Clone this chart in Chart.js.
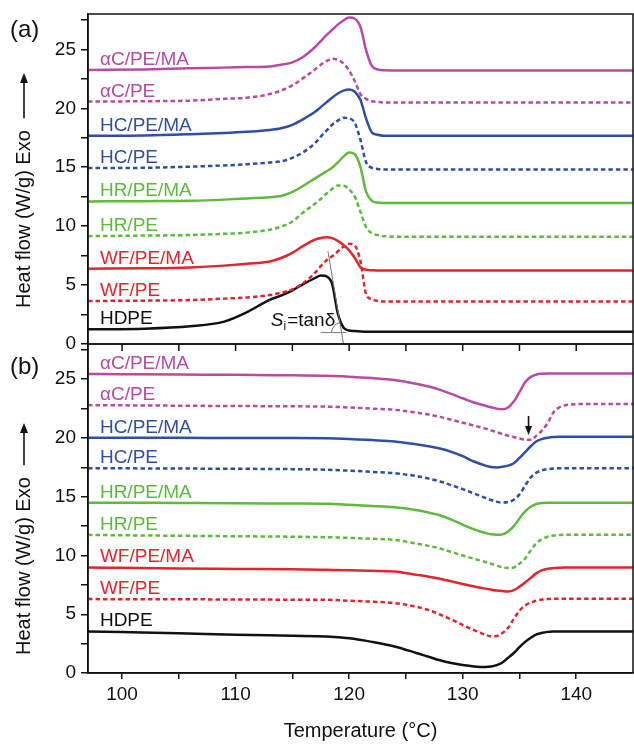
<!DOCTYPE html>
<html>
<head>
<meta charset="utf-8">
<script src="https://cdn.jsdelivr.net/npm/chart.js@4.4.1/dist/chart.umd.min.js"></script>
<style>
  html, body { margin: 0; padding: 0; background: #fff; }
  #wrap { position: relative; width: 634px; height: 744px; }
  canvas { position: absolute; left: 0; }
  #chartA { top: 0; }
  #chartB { top: 336px; }
</style>
</head>
<body>
<div id="wrap">
  <canvas id="chartA" width="634" height="350"></canvas>
  <canvas id="chartB" width="634" height="408"></canvas>
</div>
<script>
// series, top to bottom
const seriesNames = ['\u03b1C/PE/MA', '\u03b1C/PE', 'HC/PE/MA', 'HC/PE', 'HR/PE/MA', 'HR/PE', 'WF/PE/MA', 'WF/PE', 'HDPE'];
const seriesColors = ['#b84aa6', '#b84aa6', '#2f4ea6', '#2f4ea6', '#5cba3c', '#5cba3c', '#e3242b', '#e3242b', '#111111'];
const seriesDashed = [false, true, false, true, false, true, false, true, false];

// axis ticks
const tempTicks = [100, 105, 110, 115, 120, 125, 130, 135, 140];
const heatTicks = [0, 2.5, 5, 7.5, 10, 12.5, 15, 17.5, 20, 22.5, 25, 27.5];

// (a) cooling / crystallization, temperatures in °C
const tempA = [97, 102, 106, 109, 111, 113, 114, 115, 116, 117, 117.5, 118, 118.5, 119, 119.5, 120, 120.5, 121, 121.5, 122, 122.5, 123, 125, 130, 135, 140, 145];
const crysAlphaMA = [23.25, 23.3, 23.4, 23.45, 23.5, 23.55, 23.7, 23.9, 24.4, 25.2, 25.7, 26.2, 26.65, 27.1, 27.45, 27.7, 27.6, 26.9, 24.9, 23.6, 23.3, 23.22, 23.2, 23.2, 23.2, 23.2, 23.2];
const crysAlpha = [20.57, 20.6, 20.65, 20.8, 20.9, 21.2, 21.5, 21.95, 22.6, 23.3, 23.7, 24.0, 24.2, 24.1, 23.8, 23.2, 22.3, 21.2, 20.8, 20.6, 20.55, 20.5, 20.5, 20.5, 20.5, 20.5, 20.5];
const crysHCMA = [17.67, 17.7, 17.8, 17.9, 18.0, 18.15, 18.3, 18.6, 19.1, 19.7, 20.1, 20.5, 20.9, 21.25, 21.5, 21.6, 21.4, 20.7, 19.1, 17.95, 17.75, 17.68, 17.67, 17.67, 17.67, 17.67, 17.67];
const crysHC = [14.93, 14.95, 15.05, 15.15, 15.25, 15.4, 15.5, 15.8, 16.3, 17.05, 17.6, 18.1, 18.6, 18.95, 19.2, 19.15, 18.75, 17.3, 15.4, 14.95, 14.85, 14.8, 14.8, 14.8, 14.8, 14.8, 14.8];
const crysHRMA = [12.1, 12.12, 12.15, 12.25, 12.35, 12.45, 12.55, 12.9, 13.45, 14.05, 14.35, 14.65, 14.95, 15.4, 15.9, 16.25, 16.1, 15.0, 12.9, 12.15, 12.0, 11.97, 11.97, 11.97, 11.97, 11.97, 11.97];
const crysHR = [9.15, 9.2, 9.25, 9.35, 9.45, 9.7, 9.95, 10.4, 11.2, 11.9, 12.3, 12.75, 13.15, 13.45, 13.45, 13.1, 12.5, 11.2, 9.9, 9.4, 9.25, 9.15, 9.1, 9.1, 9.1, 9.1, 9.1];
const crysWFMA = [6.39, 6.42, 6.5, 6.65, 6.8, 7.0, 7.3, 7.74, 8.35, 8.85, 9.0, 9.06, 8.98, 8.75, 8.4, 7.95, 7.3, 6.5, 6.3, 6.25, 6.24, 6.24, 6.24, 6.24, 6.24, 6.24, 6.24];
const crysWF = [3.65, 3.68, 3.73, 3.85, 3.95, 4.15, 4.35, 4.64, 5.2, 6.05, 6.6, 7.1, 7.45, 7.85, 8.25, 8.5, 8.35, 7.0, 4.2, 3.79, 3.65, 3.6, 3.6, 3.6, 3.6, 3.6, 3.6];
const crysHDPE = [1.25, 1.3, 1.5, 1.9, 2.7, 3.75, 4.1, 4.55, 5.1, 5.6, 5.82, 5.75, 5.1, 2.6, 1.4, 1.15, 1.1, 1.07, 1.05, 1.05, 1.05, 1.05, 1.05, 1.05, 1.05, 1.05, 1.05];

// (b) heating / melting
const tempB = [97, 100, 105, 110, 115, 118, 120, 122, 124, 126, 127, 128, 129, 130, 131, 132, 132.5, 133, 133.5, 134, 134.5, 135, 135.5, 136, 136.5, 137, 137.5, 138, 138.5, 139, 140, 142, 145];
const meltAlphaMA = [25.45, 25.43, 25.4, 25.38, 25.33, 25.3, 25.22, 25.1, 24.94, 24.6, 24.38, 24.1, 23.75, 23.38, 23.02, 22.75, 22.62, 22.5, 22.45, 22.6, 23.1, 23.9, 24.75, 25.2, 25.4, 25.47, 25.5, 25.5, 25.5, 25.5, 25.5, 25.5, 25.5];
const meltAlpha = [22.8, 22.78, 22.75, 22.72, 22.7, 22.67, 22.6, 22.5, 22.4, 22.15, 22.0, 21.8, 21.55, 21.3, 21.05, 20.8, 20.65, 20.5, 20.33, 20.2, 20.08, 19.95, 19.86, 19.85, 20.2, 20.65, 21.3, 22.2, 22.6, 22.78, 22.88, 22.9, 22.9];
const meltHCMA = [20.03, 20.03, 20.02, 20.0, 19.99, 19.98, 19.92, 19.82, 19.7, 19.45, 19.3, 19.1, 18.82, 18.45, 18.0, 17.65, 17.53, 17.5, 17.55, 17.65, 17.85, 18.3, 18.8, 19.3, 19.72, 19.92, 20.03, 20.08, 20.1, 20.1, 20.1, 20.1, 20.1];
const meltHC = [17.43, 17.42, 17.4, 17.38, 17.35, 17.3, 17.22, 17.12, 17.0, 16.75, 16.55, 16.3, 15.98, 15.65, 15.28, 14.9, 14.72, 14.58, 14.5, 14.55, 14.75, 15.2, 15.95, 16.65, 17.05, 17.25, 17.35, 17.4, 17.42, 17.43, 17.43, 17.43, 17.43];
const meltHRMA = [14.5, 14.49, 14.47, 14.45, 14.42, 14.4, 14.32, 14.22, 14.1, 13.85, 13.65, 13.42, 13.05, 12.62, 12.22, 11.92, 11.8, 11.76, 11.8, 12.05, 12.5, 13.15, 13.75, 14.15, 14.38, 14.47, 14.5, 14.5, 14.5, 14.5, 14.5, 14.5, 14.5];
const meltHR = [11.76, 11.72, 11.68, 11.64, 11.6, 11.56, 11.5, 11.42, 11.33, 11.0, 10.82, 10.6, 10.3, 10.0, 9.72, 9.45, 9.3, 9.12, 9.0, 8.93, 8.98, 9.3, 9.75, 10.45, 11.05, 11.4, 11.6, 11.7, 11.75, 11.76, 11.76, 11.76, 11.76];
const meltWFMA = [8.98, 8.95, 8.9, 8.86, 8.82, 8.78, 8.75, 8.7, 8.64, 8.35, 8.2, 8.02, 7.8, 7.58, 7.37, 7.18, 7.1, 7.02, 6.97, 6.94, 7.05, 7.35, 7.7, 8.1, 8.5, 8.75, 8.88, 8.93, 8.96, 8.98, 8.98, 8.98, 8.98];
const meltWF = [6.29, 6.28, 6.27, 6.26, 6.24, 6.23, 6.15, 6.07, 5.95, 5.62, 5.35, 4.98, 4.55, 4.08, 3.65, 3.25, 3.12, 3.15, 3.4, 3.85, 4.6, 5.3, 5.75, 6.0, 6.15, 6.25, 6.29, 6.31, 6.32, 6.32, 6.32, 6.32, 6.32];
const meltHDPE = [3.54, 3.48, 3.38, 3.26, 3.17, 3.11, 2.95, 2.65, 2.26, 1.68, 1.38, 1.08, 0.85, 0.68, 0.56, 0.51, 0.55, 0.67, 0.9, 1.3, 1.7, 2.2, 2.65, 3.0, 3.28, 3.42, 3.5, 3.53, 3.54, 3.54, 3.54, 3.54, 3.54];

// annotations (data units)
const tangentLine = [[118.13, 7.88], [119.5, 0.0]];
const tangentBase = [[117.5, 0.97], [119.75, 0.97]];
const tangentText = [113.1, 1.5];
const onsetArrow = [[135.8, 21.88], [135.8, 20.25]];

const FONT = '"Liberation Sans", Arial, sans-serif';
const INK = '#111';

function makeDatasets(temps, seriesValues) {
  return seriesValues.map((vals, i) => ({
    label: seriesNames[i],
    data: temps.map((t, j) => ({ x: t, y: vals[j] })),
    borderColor: seriesColors[i],
    borderWidth: 2.5,
    borderDash: seriesDashed[i] ? [4.5, 3] : [],
    pointRadius: 0,
    cubicInterpolationMode: 'monotone',
    fill: false
  }));
}

function drawYTitle(ctx, startY, tipY) {
  ctx.save();
  ctx.translate(24, startY);
  ctx.rotate(-Math.PI / 2);
  ctx.font = '20px ' + FONT;
  ctx.fillStyle = INK;
  ctx.strokeStyle = INK;
  ctx.textBaseline = 'middle';
  ctx.textAlign = 'left';
  const txt = 'Heat flow (W/g) Exo';
  ctx.fillText(txt, 0, 0);
  const w = ctx.measureText(txt).width;
  const len = startY - tipY;
  ctx.lineWidth = 1.6;
  ctx.beginPath();
  ctx.moveTo(w + 12, 0);
  ctx.lineTo(len - 6, 0);
  ctx.stroke();
  ctx.beginPath();
  ctx.moveTo(len, 0);
  ctx.lineTo(len - 10, -4);
  ctx.lineTo(len - 10, 4);
  ctx.closePath();
  ctx.fill();
  ctx.restore();
}

// frame, series names, panel tag, y title
function panelPlugin(tag, tagY, titleStart, titleTip, topTicks) {
  return {
    id: 'panel' + tag,
    afterDatasetsDraw(chart) {
      const { ctx, scales } = chart;
      ctx.save();
      ctx.font = '19px ' + FONT;
      ctx.textBaseline = 'alphabetic';
      ctx.textAlign = 'left';
      chart.data.datasets.forEach(ds => {
        ctx.fillStyle = ds.borderColor;
        const y = scales.y.getPixelForValue(ds.data[0].y) - 5;
        ctx.fillText(ds.label, scales.x.getPixelForValue(98.05), y);
      });
      ctx.restore();
    },
    afterDraw(chart) {
      const { ctx, chartArea: a, scales } = chart;
      ctx.save();
      ctx.strokeStyle = INK;
      ctx.lineWidth = 1.5;
      ctx.strokeRect(a.left, a.top, a.right - a.left, a.bottom - a.top);
      if (topTicks) {
        ctx.beginPath();
        tempTicks.forEach(t => {
          const x = scales.x.getPixelForValue(t);
          ctx.moveTo(x, a.top);
          ctx.lineTo(x, a.top + 7);
        });
        ctx.stroke();
      }
      ctx.fillStyle = INK;
      ctx.font = '24px ' + FONT;
      ctx.textAlign = 'left';
      ctx.textBaseline = 'alphabetic';
      ctx.fillText(tag, 10, tagY);
      ctx.restore();
      drawYTitle(ctx, titleStart, titleTip);
    }
  };
}

const tangentPlugin = {
  id: 'tangent',
  afterDatasetsDraw(chart) {
    const { ctx, scales: { x, y } } = chart;
    const P = p => [x.getPixelForValue(p[0]), y.getPixelForValue(p[1])];
    ctx.save();
    ctx.strokeStyle = '#777';
    ctx.lineWidth = 1;
    [tangentLine, tangentBase].forEach(seg => {
      const p0 = P(seg[0]), p1 = P(seg[1]);
      ctx.beginPath();
      ctx.moveTo(p0[0], p0[1]);
      ctx.lineTo(p1[0], p1[1]);
      ctx.stroke();
    });
    // angle arc at intersection
    const t0 = P(tangentLine[0]), t1 = P(tangentLine[1]);
    const by = P(tangentBase[0])[1];
    const f = (by - t0[1]) / (t1[1] - t0[1]);
    const cx = t0[0] + f * (t1[0] - t0[0]);
    const ang = Math.atan2(t0[1] - by, t0[0] - cx) + 2 * Math.PI;
    ctx.beginPath();
    ctx.arc(cx, by, 10, Math.PI, ang);
    ctx.stroke();
    // S_i = tan delta
    const tp = P(tangentText);
    ctx.fillStyle = INK;
    ctx.textBaseline = 'alphabetic';
    ctx.textAlign = 'left';
    ctx.font = 'italic 19px ' + FONT;
    ctx.fillText('S', tp[0], tp[1]);
    let cur = tp[0] + ctx.measureText('S').width;
    ctx.font = '12px ' + FONT;
    ctx.fillText('i', cur, tp[1] + 4);
    cur += ctx.measureText('i').width + 1;
    ctx.font = '19px ' + FONT;
    ctx.fillText('=tan\u03b4', cur, tp[1]);
    ctx.restore();
  }
};

const arrowPlugin = {
  id: 'onsetArrow',
  afterDatasetsDraw(chart) {
    const { ctx, scales: { x, y } } = chart;
    const x0 = x.getPixelForValue(onsetArrow[0][0]);
    const y0 = y.getPixelForValue(onsetArrow[0][1]);
    const y1 = y.getPixelForValue(onsetArrow[1][1]);
    ctx.save();
    ctx.strokeStyle = INK;
    ctx.fillStyle = INK;
    ctx.lineWidth = 1.6;
    ctx.beginPath();
    ctx.moveTo(x0, y0);
    ctx.lineTo(x0, y1 - 6);
    ctx.stroke();
    ctx.beginPath();
    ctx.moveTo(x0, y1);
    ctx.lineTo(x0 - 3.5, y1 - 9);
    ctx.lineTo(x0 + 3.5, y1 - 9);
    ctx.closePath();
    ctx.fill();
    ctx.restore();
  }
};

function yScale() {
  return {
    min: 0,
    max: 28,
    afterFit: s => {
      s.width = 88;
      s.paddingTop = 0;
      s.paddingBottom = 0;
    },
    afterBuildTicks: s => { s.ticks = heatTicks.map(v => ({ value: v })); },
    ticks: {
      color: INK,
      font: { family: FONT, size: 19 },
      padding: 5,
      callback: v => (v % 5 === 0 ? v : '')
    },
    grid: { display: true, drawOnChartArea: false, tickLength: 7, color: INK, lineWidth: 1.5 },
    border: { display: true, color: INK, width: 1.5 }
  };
}

function xScale(show) {
  return {
    type: 'linear',
    min: 97,
    max: 145,
    display: show,
    afterFit: s => {
      s.height = show ? 71 : 0;
      s.paddingLeft = 0;
      s.paddingRight = 0;
    },
    afterBuildTicks: s => { s.ticks = tempTicks.map(v => ({ value: v })); },
    ticks: {
      color: INK,
      font: { family: FONT, size: 19 },
      padding: 4,
      maxRotation: 0,
      callback: v => (v % 10 === 0 ? v : '')
    },
    grid: { display: true, drawOnChartArea: false, tickLength: 6, color: INK, lineWidth: 1.5 },
    border: { display: true, color: INK, width: 1.5 },
    title: {
      display: true,
      text: 'Temperature (\u00b0C)',
      color: INK,
      font: { family: FONT, size: 20 },
      padding: { top: 0, bottom: 1 }
    }
  };
}

const baseOptions = (padding, showX) => ({
  responsive: false,
  animation: false,
  layout: { padding },
  plugins: { legend: { display: false }, tooltip: { enabled: false } },
  scales: { x: xScale(showX), y: yScale() }
});

new Chart(document.getElementById('chartA'), {
  type: 'line',
  data: {
    datasets: makeDatasets(tempA, [crysAlphaMA, crysAlpha, crysHCMA, crysHC, crysHRMA, crysHR, crysWFMA, crysWF, crysHDPE])
  },
  options: baseOptions({ top: 14, right: 1, bottom: 6, left: 0 }, false),
  plugins: [tangentPlugin, panelPlugin('(a)', 37, 308, 73, false)]
});

new Chart(document.getElementById('chartB'), {
  type: 'line',
  data: {
    datasets: makeDatasets(tempB, [meltAlphaMA, meltAlpha, meltHCMA, meltHC, meltHRMA, meltHR, meltWFMA, meltWF, meltHDPE])
  },
  options: baseOptions({ top: 8, right: 1, bottom: 0, left: 0 }, true),
  plugins: [arrowPlugin, panelPlugin('(b)', 38, 319, 87, true)]
});
</script>
</body>
</html>
